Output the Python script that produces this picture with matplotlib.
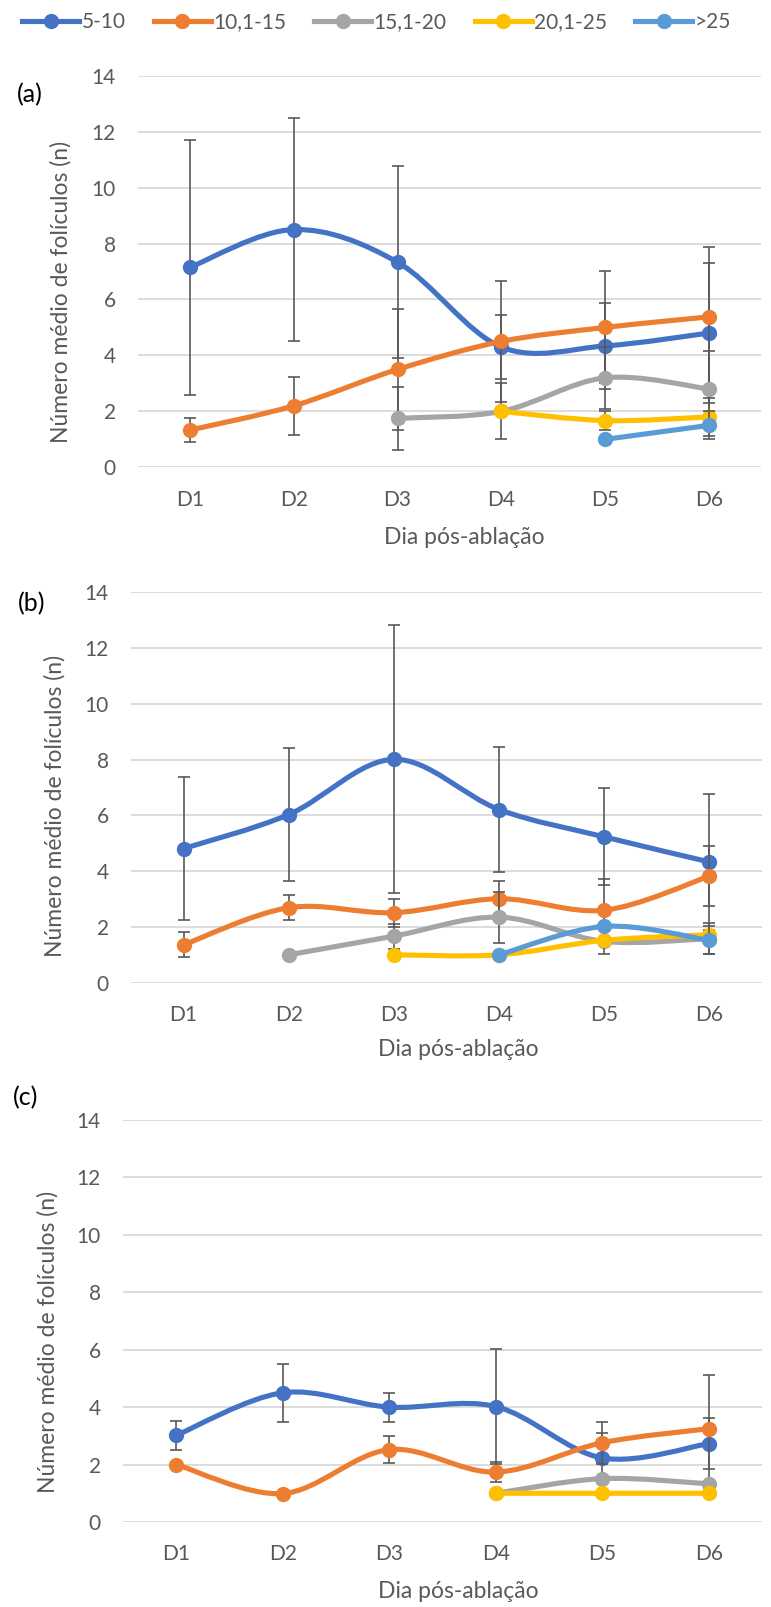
import numpy as np
import matplotlib
matplotlib.use("Agg")
import matplotlib.pyplot as plt
from matplotlib.path import Path
from matplotlib.patches import PathPatch
from matplotlib.lines import Line2D

nan = np.nan

days = ["D1", "D2", "D3", "D4", "D5", "D6"]
classes = ["5-10", "10,1-15", "15,1-20", "20,1-25", ">25"]
colors = ["#4472C4", "#ED7D31", "#A5A5A5", "#FFC000", "#5B9BD5"]

# panel (a): mean and error per size class
mean_a = [
    [7.15, 8.5, 7.33, 4.3, 4.34, 4.8],
    [1.33, 2.2, 3.5, 4.5, 5.0, 5.38],
    [nan, nan, 1.75, 2.0, 3.2, 2.8],
    [nan, nan, nan, 2.0, 1.67, 1.8],
    [nan, nan, nan, nan, 1.0, 1.5],
]
err_a = [
    [4.55, 4.0, 3.44, 1.15, 1.55, 2.5],
    [0.43, 1.04, 2.16, 2.16, 2.0, 2.49],
    [nan, nan, 1.13, 1.0, 1.1, 1.37],
    [nan, nan, nan, 0, 0.34, 0.67],
    [nan, nan, nan, nan, 0, 0.5],
]

# panel (b)
mean_b = [
    [4.81, 6.03, 8.01, 6.21, 5.23, 4.33],
    [1.36, 2.69, 2.51, 3.01, 2.6, 3.82],
    [nan, 1.0, 1.67, 2.35, 1.48, 1.58],
    [nan, nan, 1.0, 1.0, 1.52, 1.72],
    [nan, nan, nan, 1.0, 2.02, 1.52],
]
err_b = [
    [2.56, 2.4, 4.8, 2.25, 1.74, 2.45],
    [0.45, 0.45, 0.5, 0.64, 1.13, 1.08],
    [nan, 0, 0.45, 0.92, 0, 0.55],
    [nan, nan, 0, 0, 0.5, 0],
    [nan, nan, nan, 0, 0, 0.5],
]

# panel (c)
mean_c = [
    [3.02, 4.5, 4.0, 4.02, 2.23, 2.73],
    [2.0, 0.99, 2.52, 1.74, 2.76, 3.25],
    [nan, nan, nan, 1.0, 1.51, 1.33],
    [nan, nan, nan, 1.0, 1.0, 1.0],
    [nan, nan, nan, nan, nan, nan],
]
err_c = [
    [0.5, 1.0, 0.5, 2.0, 0.88, 0.9],
    [0, 0, 0.48, 0.35, 0.74, 1.88],
    [nan, nan, nan, 0, 0, 0],
    [nan, nan, nan, 0, 0, 0],
    [nan, nan, nan, nan, nan, nan],
]

TXT = "#595959"
FONT = "Lato"
LW = 3.7
MS = 10
plt.rcParams["font.family"] = [FONT, "DejaVu Sans"]


def smooth_path(x, y):
    """Excel-like smoothed line as cubic Bezier segments."""
    n = len(x)
    verts = [(x[0], y[0])]
    codes = [Path.MOVETO]
    for i in range(n - 1):
        xp, yp = (x[i - 1], y[i - 1]) if i > 0 else (x[i], y[i])
        xn, yn = (x[i + 2], y[i + 2]) if i + 2 < n else (x[i + 1], y[i + 1])
        c1 = (x[i] + (x[i + 1] - xp) / 6, y[i] + (y[i + 1] - yp) / 6)
        c2 = (x[i + 1] - (xn - x[i]) / 6, y[i + 1] - (yn - y[i]) / 6)
        verts += [c1, c2, (x[i + 1], y[i + 1])]
        codes += [Path.CURVE4] * 3
    return Path(verts, codes)


def draw_panel(ax, means, errs):
    x = np.arange(len(days))
    for k in range(len(classes)):
        m = np.array(means[k], float)
        e = np.nan_to_num(np.array(errs[k], float))
        ok = ~np.isnan(m)
        if not ok.any():
            continue
        xs, ys = x[ok], m[ok]
        z = 3 + k
        if len(xs) > 1:
            ax.add_patch(PathPatch(smooth_path(xs, ys), fill=False,
                                   edgecolor=colors[k], lw=LW,
                                   capstyle="round", joinstyle="round",
                                   zorder=z))
        we = ok & (e > 0)
        if we.any():
            ax.errorbar(x[we], m[we], yerr=e[we], fmt="none", ecolor=TXT,
                        elinewidth=1.2, capsize=4, capthick=1.2,
                        zorder=z + 0.3)
        ax.plot(xs, ys, "o", color=colors[k], ms=MS, zorder=z + 0.5,
                clip_on=False)

    ax.set_xlim(-0.5, 5.5)
    ax.set_ylim(0, 14)
    ax.set_xticks(x)
    ax.set_xticklabels(days)
    ax.set_yticks(range(0, 15, 2))
    ax.grid(axis="y", color="#D9D9D9", lw=1.3)
    ax.set_axisbelow(True)
    for s in ax.spines.values():
        s.set_visible(False)
    ax.tick_params(length=0, colors=TXT, labelsize=15, pad=16)


W, H = 771, 1607
fig = plt.figure(figsize=(W / 100, H / 100), dpi=100)

# (left, right, top, bottom) of each plot area in pixels
boxes = [(138, 761, 75.7, 467.3), (131, 762, 592.3, 982.7), (123, 762, 1120, 1522)]
data = [(mean_a, err_a), (mean_b, err_b), (mean_c, err_c)]
letters = [("(a)", 30, 95), ("(b)", 32, 604), ("(c)", 26, 1098)]
ylab = [(61, 292), (55, 806), (48, 1342)]
xlab = [(464, 538), (458, 1049), (458, 1592)]

for (l, r, t, b), (m, e), lt, yl, xl in zip(boxes, data, letters, ylab, xlab):
    ax = fig.add_axes([l / W, 1 - b / H, (r - l) / W, (b - t) / H])
    draw_panel(ax, m, e)
    fig.text(lt[1] / W, 1 - lt[2] / H, lt[0], fontsize=18, color="black",
             ha="center", va="center")
    fig.text(yl[0] / W, 1 - yl[1] / H, "Número médio de folículos (n)",
             rotation=90, fontsize=16.5, color=TXT, ha="center", va="center")
    fig.text(xl[0] / W, 1 - xl[1] / H, "Dia pós-ablação", fontsize=16.5,
             color=TXT, ha="center", va="center")

handles = [Line2D([0], [0], color=c, lw=LW, marker="o", ms=MS) for c in colors]
fig.legend(handles, classes, loc="center left", bbox_to_anchor=(22 / W, 1 - 22 / H),
           ncol=5, frameon=False, fontsize=15, labelcolor=TXT, handlelength=2.75,
           handletextpad=0.1, columnspacing=1.35, borderpad=0, borderaxespad=0)

fig.savefig("out.png", dpi=100)
